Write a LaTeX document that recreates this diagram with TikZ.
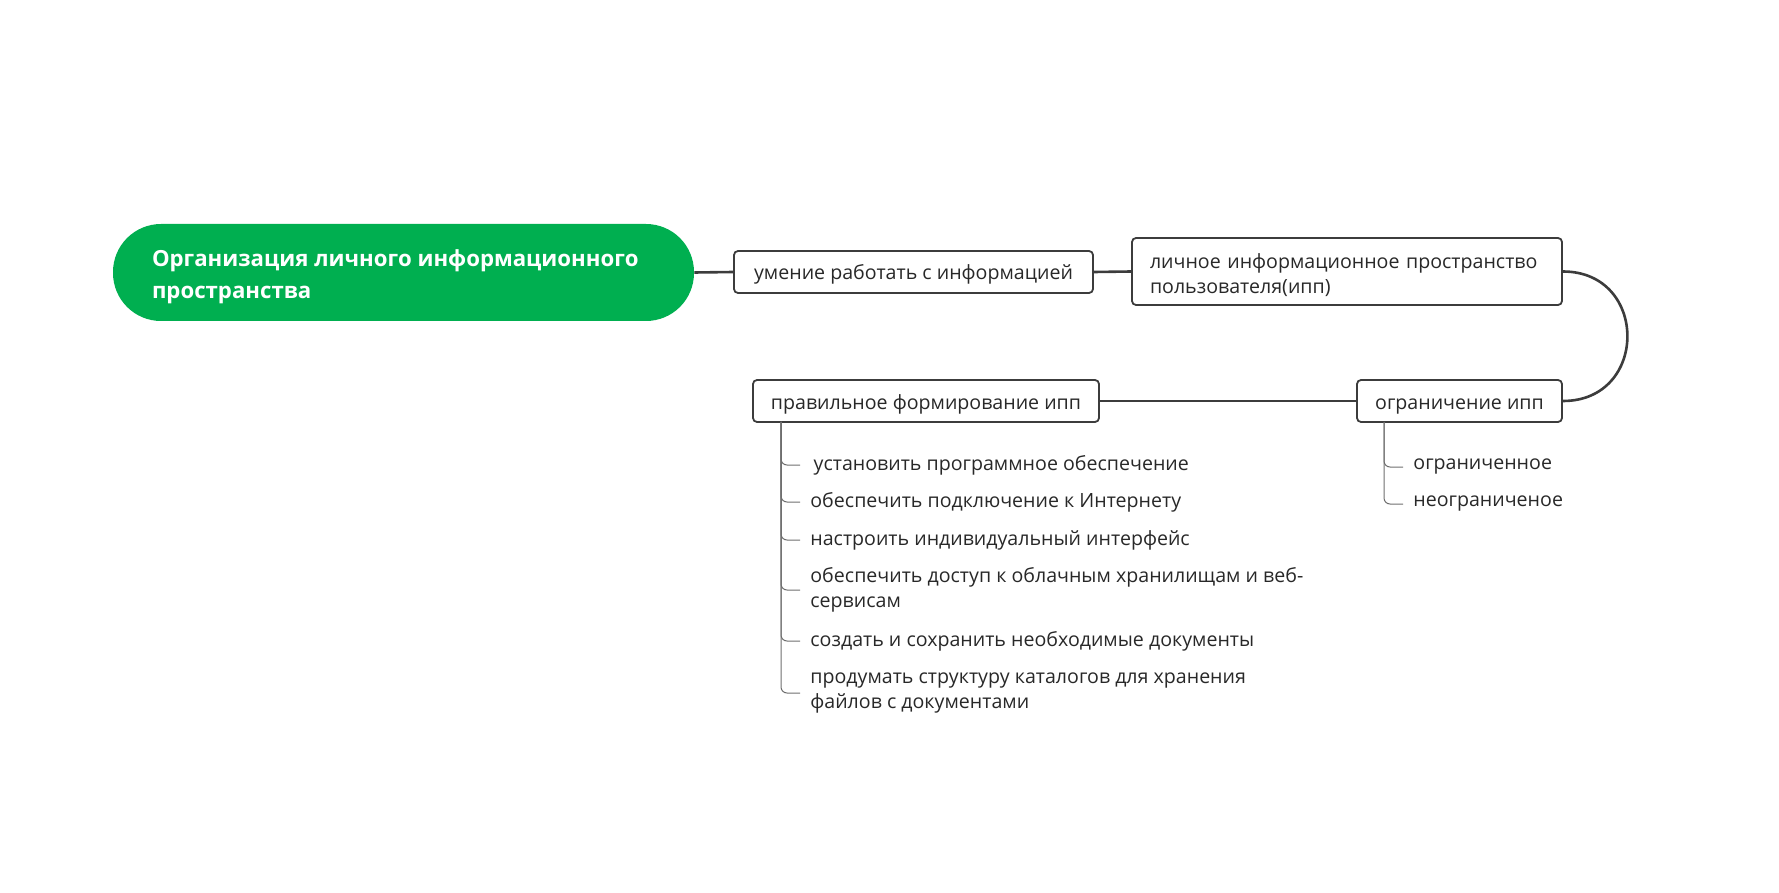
\documentclass[tikz,border=0pt]{standalone}
\usepackage{fontspec}
\setmainfont{Open Sans}
\usepackage{tikz}
\usetikzlibrary{positioning, calc}
\definecolor{mygreen}{RGB}{0,175,80}
\definecolor{mydark}{RGB}{60,60,60}
\definecolor{mytext}{RGB}{40,40,40}
\definecolor{mybranch}{RGB}{110,110,110}
\tikzset{
  rootnode/.style={rectangle, fill=mygreen, text=white, rounded corners=24pt,
    minimum width=290.5pt, minimum height=48.5pt,
    font=\fontsize{11.1}{16}\selectfont\bfseries, inner sep=0pt},
  topic/.style={rectangle, draw=mydark, fill=white, rounded corners=2pt,
    line width=0.9pt, minimum height=21pt, align=center, inner sep=0pt,
    text height=8pt, text depth=0pt,
    font=\fontsize{9.8}{12.5}\selectfont, text=mytext},
  leaf/.style={anchor=west, align=left, inner sep=0pt,
    font=\fontsize{9.8}{12.5}\selectfont, text=mytext},
  link/.style={line width=1.3pt, color=mydark},
  branch/.style={line width=0.5pt, color=mybranch, rounded corners=3pt}
}
\begin{document}
\begin{tikzpicture}[x=0.5pt, y=-0.5pt]
  \useasboundingbox (0,0) rectangle (1779,893);

  % main line
  \node[rootnode] (root) at (403.5, 272.5)
    {\raisebox{-2.3pt}[\height][\depth]{\parbox{251.5pt}{Организация личного информационного\\пространства}}};
  \node[topic, minimum width=179.5pt] (skill) at (913.5, 272) {умение работать с информацией};
  \node[topic, minimum width=215pt, minimum height=33.5pt, text width=197pt, align=left,
    text height=, text depth=] (ipp) at (1347, 271.5)
    {\raisebox{-1.8pt}[\height][\depth]{\parbox{197pt}{личное информационное пространство\\пользователя(ипп)}}};
  \node[topic, minimum width=102.5pt] (limit) at (1459.5, 401) {ограничение ипп};
  \node[topic, minimum width=173pt] (form) at (926, 401) {правильное формирование ипп};

  \draw[link] (root.east) -- (skill.west);
  \draw[link] (skill.east) -- (ipp.west);
  \draw[link] (ipp.east) .. controls +(86,0) and +(86,0) .. (limit.east);
  \draw[link] (limit.west) -- (form.east);

  % children of form
  \coordinate (tf) at (781, 422);
  \node[leaf] (s1) at (810, 465) {\,установить программное обеспечение};
  \node[leaf] (s2) at (810, 502) {обеспечить подключение к Интернету};
  \node[leaf] (s3) at (810, 540) {настроить индивидуальный интерфейс};
  \node[leaf] (s4) at (810, 590) {обеспечить доступ к облачным хранилищам и веб-\\сервисам};
  \node[leaf] (s5) at (810, 641) {создать и сохранить необходимые документы};
  \node[leaf] (s6) at (810, 693) {продумать структуру каталогов для хранения\\файлов с документами};
  \foreach \n in {s1,s2,s3,s4,s5,s6}
    \draw[branch] (tf) |- ([xshift=-5pt]\n.west);

  % children of limit
  \coordinate (tl) at (1384, 422);
  \node[leaf] (r1) at (1413, 467) {ограниченное};
  \node[leaf] (r2) at (1413, 504) {неограниченое};
  \foreach \n in {r1,r2}
    \draw[branch] (tl) |- ([xshift=-5pt]\n.west);
\end{tikzpicture}
\end{document}
